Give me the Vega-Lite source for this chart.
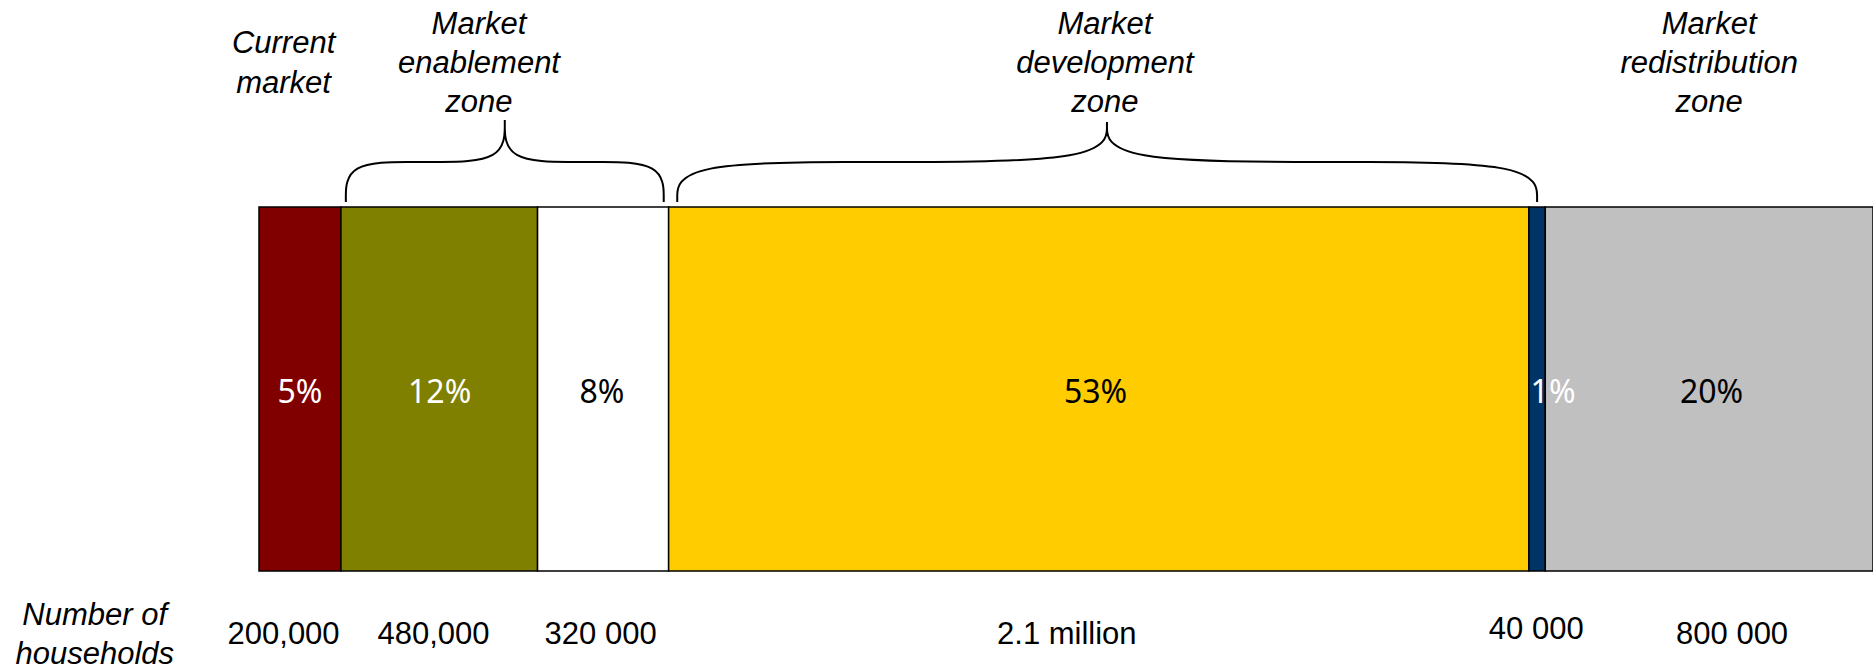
{
  "$schema": "https://vega.github.io/schema/vega-lite/v6.json",
  "width": 1873,
  "height": 670,
  "autosize": {"type": "none"},
  "padding": 0,
  "background": "white",
  "config": {"view": {"stroke": null}, "axis": {"disable": true}},
  "datasets": {
    "segments": [
      {"seg": "Current market", "start": 0, "end": 200000, "pct": "5%", "pct_at": 100000},
      {"seg": "Enablement A", "start": 200000, "end": 680000, "pct": "12%", "pct_at": 441000},
      {"seg": "Enablement B", "start": 680000, "end": 1000000, "pct": "8%", "pct_at": 837000},
      {"seg": "Development", "start": 1000000, "end": 3100000, "pct": "53%", "pct_at": 2042000},
      {"seg": "Small", "start": 3100000, "end": 3140000, "pct": "1%", "pct_at": 3159000},
      {"seg": "Redistribution", "start": 3140000, "end": 3940000, "pct": "20%", "pct_at": 3546000}
    ],
    "households": [
      {"label": "200,000", "at": 60000},
      {"label": "480,000", "at": 426000},
      {"label": "320 000", "at": 834000},
      {"label": "2.1 million", "at": 1972000},
      {"label": "40 000", "at": 3118000},
      {"label": "800 000", "at": 3596000}
    ],
    "zones": [
      {"zone": ["Market", "enablement", "zone"], "at": 537000},
      {"zone": ["Market", "development", "zone"], "at": 2065000},
      {"zone": ["Market", "redistribution", "zone"], "at": 3540000}
    ],
    "braces": [
      {"brace": "enablement", "i": 1, "x": 212000, "y": 10.14},
      {"brace": "enablement", "i": 2, "x": 212000, "y": 11.24},
      {"brace": "enablement", "i": 3, "x": 382000, "y": 11.24},
      {"brace": "enablement", "i": 4, "x": 422000, "y": 11.24},
      {"brace": "enablement", "i": 5, "x": 600000, "y": 11.24},
      {"brace": "enablement", "i": 6, "x": 600000, "y": 12.39},
      {"brace": "enablement", "i": 7, "x": 600000, "y": 12.39},
      {"brace": "enablement", "i": 8, "x": 600000, "y": 12.39},
      {"brace": "enablement", "i": 9, "x": 600000, "y": 11.24},
      {"brace": "enablement", "i": 10, "x": 778000, "y": 11.24},
      {"brace": "enablement", "i": 11, "x": 818000, "y": 11.24},
      {"brace": "enablement", "i": 12, "x": 988000, "y": 11.24},
      {"brace": "enablement", "i": 13, "x": 988000, "y": 10.14},
      {"brace": "development", "i": 1, "x": 1021000, "y": 10.14},
      {"brace": "development", "i": 2, "x": 1021000, "y": 11.24},
      {"brace": "development", "i": 3, "x": 1511000, "y": 11.24},
      {"brace": "development", "i": 4, "x": 1520000, "y": 11.24},
      {"brace": "development", "i": 5, "x": 2070000, "y": 11.24},
      {"brace": "development", "i": 6, "x": 2070000, "y": 12.34},
      {"brace": "development", "i": 7, "x": 2070000, "y": 12.34},
      {"brace": "development", "i": 8, "x": 2070000, "y": 12.34},
      {"brace": "development", "i": 9, "x": 2070000, "y": 11.24},
      {"brace": "development", "i": 10, "x": 2620000, "y": 11.24},
      {"brace": "development", "i": 11, "x": 2630000, "y": 11.24},
      {"brace": "development", "i": 12, "x": 3120000, "y": 11.24},
      {"brace": "development", "i": 13, "x": 3120000, "y": 10.14}
    ]
  },
  "layer": [
    {
      "data": {"name": "segments"},
      "mark": {"type": "rect", "stroke": "black", "strokeWidth": 1.5, "clip": false},
      "encoding": {
        "x": {"field": "start", "type": "quantitative", "scale": {"domain": [-632250, 3940000], "nice": false, "zero": false}, "axis": null},
        "x2": {"field": "end"},
        "y": {"datum": 0, "type": "quantitative", "scale": {"domain": [-2.72, 15.69], "nice": false, "zero": false}, "axis": null},
        "y2": {"datum": 10},
        "fill": {
          "field": "seg", "type": "nominal", "legend": null,
          "scale": {
            "domain": ["Current market", "Enablement A", "Enablement B", "Development", "Small", "Redistribution"],
            "range": ["#800000", "#808000", "#FFFFFF", "#FFCC00", "#003366", "#C0C0C0"]
          }
        }
      }
    },
    {
      "data": {"name": "segments"},
      "mark": {"type": "text", "font": "Noto Sans", "fontSize": 32, "align": "center", "baseline": "middle"},
      "encoding": {
        "x": {"field": "pct_at", "type": "quantitative"},
        "y": {"datum": 4.9, "type": "quantitative"},
        "text": {"field": "pct"},
        "color": {"condition": {"test": "indexof(['5%','12%','1%'], datum.pct) >= 0", "value": "white"}, "value": "black"}
      }
    },
    {
      "data": {"name": "braces"},
      "mark": {"type": "line", "interpolate": "basis", "stroke": "black", "strokeWidth": 2},
      "encoding": {
        "x": {"field": "x", "type": "quantitative"},
        "y": {"field": "y", "type": "quantitative"},
        "detail": {"field": "brace"},
        "order": {"field": "i", "type": "quantitative"}
      }
    },
    {
      "data": {"name": "zones"},
      "mark": {"type": "text", "font": "Liberation Sans", "fontStyle": "italic", "fontSize": 31, "lineHeight": 39, "align": "center", "baseline": "middle", "color": "black"},
      "encoding": {
        "x": {"field": "at", "type": "quantitative"},
        "y": {"datum": 15.0, "type": "quantitative"},
        "text": {"field": "zone"}
      }
    },
    {
      "data": {"values": [{"zone": ["Current", "market"], "at": 60000}]},
      "mark": {"type": "text", "font": "Liberation Sans", "fontStyle": "italic", "fontSize": 31, "lineHeight": 39.5, "align": "center", "baseline": "middle", "color": "black"},
      "encoding": {
        "x": {"field": "at", "type": "quantitative"},
        "y": {"datum": 14.48, "type": "quantitative"},
        "text": {"field": "zone"}
      }
    },
    {
      "data": {"name": "households"},
      "transform": [{"filter": "datum.label != '40 000'"}],
      "mark": {"type": "text", "font": "Liberation Sans", "fontSize": 31, "align": "center", "baseline": "middle", "color": "black"},
      "encoding": {
        "x": {"field": "at", "type": "quantitative"},
        "y": {"datum": -1.76, "type": "quantitative"},
        "text": {"field": "label"}
      }
    },
    {
      "data": {"name": "households"},
      "transform": [{"filter": "datum.label == '40 000'"}],
      "mark": {"type": "text", "font": "Liberation Sans", "fontSize": 31, "align": "center", "baseline": "middle", "color": "black"},
      "encoding": {
        "x": {"field": "at", "type": "quantitative"},
        "y": {"datum": -1.62, "type": "quantitative"},
        "text": {"field": "label"}
      }
    },
    {
      "data": {"values": [{"caption": ["Number of", "households"], "at": -401000}]},
      "mark": {"type": "text", "font": "Liberation Sans", "fontStyle": "italic", "fontSize": 31, "lineHeight": 38.5, "align": "center", "baseline": "middle", "color": "black"},
      "encoding": {
        "x": {"field": "at", "type": "quantitative"},
        "y": {"datum": -1.24, "type": "quantitative"},
        "text": {"field": "caption"}
      }
    }
  ]
}
